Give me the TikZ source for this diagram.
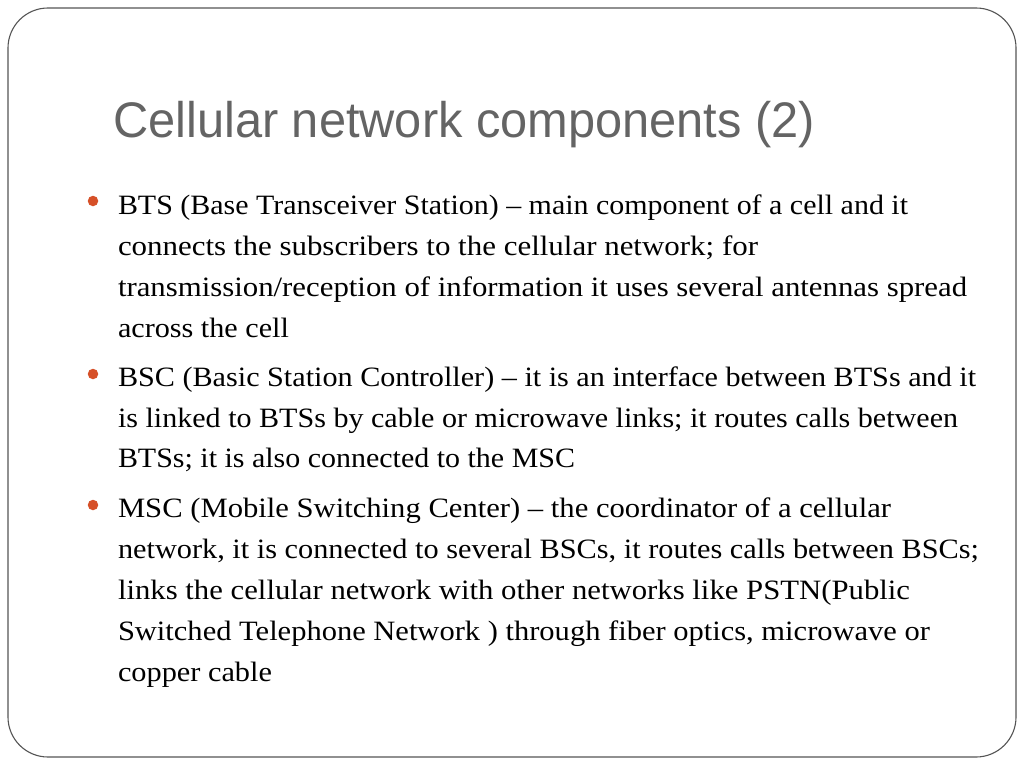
\documentclass[tikz,border=0pt]{standalone}
\usepackage{fontspec}
\setmainfont{Liberation Serif}
\newfontfamily\titlefont{Liberation Sans}
\definecolor{titlegray}{RGB}{100,100,100}
\definecolor{bulletorange}{RGB}{214,80,40}
\definecolor{framegray}{RGB}{85,85,85}
\tikzset{
  bodyline/.style={anchor=base west, inner sep=0pt, outer sep=0pt, text=black,
    font=\fontsize{28}{32}\selectfont},
  bulletdot/.style={circle, fill=bulletorange, inner sep=0pt, minimum size=10.5pt},
  titletext/.style={anchor=base west, inner sep=0pt, text=titlegray,
    font=\titlefont\fontsize{50}{56}\selectfont},
  frame/.style={draw=framegray, line width=1.1pt, rounded corners=40pt}
}
\newcommand{\fitline}[2]{\resizebox{#1pt}{\height}{#2}}
\begin{document}
\begin{tikzpicture}[x=1pt,y=-1pt]
\useasboundingbox[fill=white] (0,0) rectangle (1024,768);
\draw[frame] (8,8) rectangle (1016,757);
\node[titletext] (title) at (113,137) {\fitline{702}{Cellular network components (2)}};
% bullets
\node[bulletdot] (b1) at (93,201) {};
\node[bulletdot] (b2) at (93,374) {};
\node[bulletdot] (b3) at (93,505) {};
% BTS
\node[bodyline] (l1) at (118,214) {\fitline{790}{BTS (Base Transceiver Station) -- main component of a cell and it}};
\node[bodyline] (l2) at (118,255) {\fitline{640}{connects the subscribers to the cellular network; for}};
\node[bodyline] (l3) at (118,296) {\fitline{849}{transmission/reception of information it uses several antennas spread}};
\node[bodyline] (l4) at (118,337) {\fitline{171}{across the cell}};
% BSC
\node[bodyline] (l5) at (118,386) {\fitline{858}{BSC (Basic Station Controller) -- it is an interface between BTSs and it}};
\node[bodyline] (l6) at (118,427) {\fitline{840}{is linked to BTSs by cable or microwave links; it routes calls between}};
\node[bodyline] (l7) at (118,467) {\fitline{457}{BTSs; it is also connected to the MSC}};
% MSC
\node[bodyline] (l8) at (118,517) {\fitline{773}{MSC (Mobile Switching Center) -- the coordinator of a cellular}};
\node[bodyline] (l9) at (118,558) {\fitline{861}{network, it is connected to several BSCs, it routes calls between BSCs;}};
\node[bodyline] (l10) at (118,599) {\fitline{792}{links the cellular network with other networks like PSTN(Public}};
\node[bodyline] (l11) at (118,640) {\fitline{812}{Switched Telephone Network ) through fiber optics, microwave or}};
\node[bodyline] (l12) at (118,681) {\fitline{154}{copper cable}};
\end{tikzpicture}
\end{document}
